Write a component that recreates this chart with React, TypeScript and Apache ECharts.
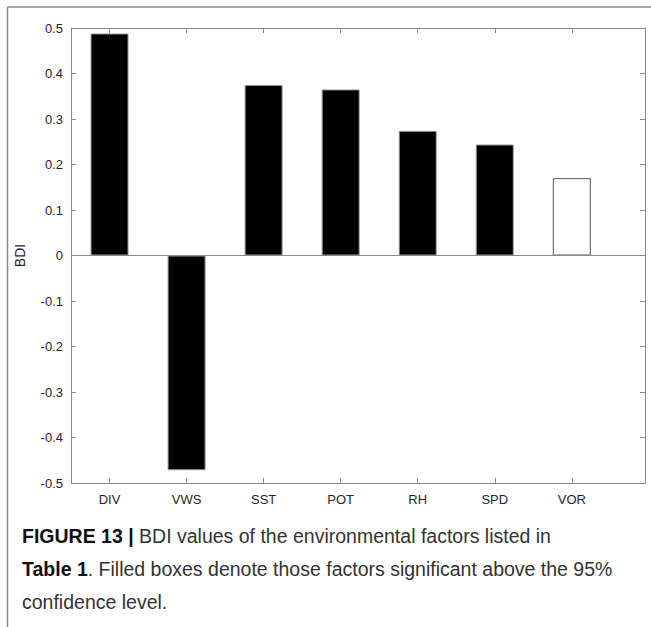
import React, { useEffect, useRef } from "react";
import * as echarts from "echarts";

const categories = ["DIV", "VWS", "SST", "POT", "RH", "SPD", "VOR"];
const bdiValues = [0.488, -0.472, 0.375, 0.365, 0.274, 0.244, 0.17];
const significant = [true, true, true, true, true, true, false];
const yTicks = [-0.5, -0.4, -0.3, -0.2, -0.1, 0, 0.1, 0.2, 0.3, 0.4, 0.5];
const positions = [1, 2, 3, 4, 5, 6, 7];
const captionLines = [
  "{b|FIGURE 13 |} BDI values of the environmental factors listed in",
  "{b|Table 1}. Filled boxes denote those factors significant above the 95%",
  "confidence level.",
];

export default function App() {
  const ref = useRef<HTMLDivElement>(null);
  useEffect(() => {
    if (!ref.current) return;
    const chart = echarts.init(ref.current, null, { renderer: "svg" });
    const axisGray = "#8a8a8a";
    const font = "Liberation Sans, Arial, Helvetica, sans-serif";
    const data = positions.map((p, i) => ({
      value: [p, bdiValues[i]],
      itemStyle: significant[i]
        ? { color: "#000000", borderColor: "#9a9a9a", borderWidth: 1 }
        : { color: "#ffffff", borderColor: "#555555", borderWidth: 1 },
    }));
    chart.setOption({
      animation: false,
      backgroundColor: "#ffffff",
      grid: { left: 71, right: 6, top: 28, bottom: 144, containLabel: false },
      xAxis: [
        {
          type: "value",
          min: 0.5,
          max: 7.95,
          position: "bottom",
          axisLine: { show: true, onZero: false, lineStyle: { color: axisGray, width: 1 } },
          axisTick: { show: true, inside: true, length: 5, customValues: positions, lineStyle: { color: axisGray } },
          axisLabel: {
            show: true,
            customValues: positions,
            formatter: (v: number) => categories[Math.round(v) - 1] ?? "",
            color: "#262626",
            fontSize: 13,
            fontFamily: font,
            margin: 10,
          },
          splitLine: { show: false },
        },
        {
          type: "value",
          min: 0.5,
          max: 7.95,
          position: "top",
          axisLine: { show: true, onZero: false, lineStyle: { color: axisGray, width: 1 } },
          axisTick: { show: true, inside: true, length: 5, customValues: positions, lineStyle: { color: axisGray } },
          axisLabel: { show: false },
          splitLine: { show: false },
        },
      ],
      yAxis: [
        {
          type: "value",
          min: -0.5,
          max: 0.5,
          interval: 0.1,
          position: "left",
          name: "BDI",
          nameLocation: "middle",
          nameGap: 44,
          nameTextStyle: { color: "#262626", fontSize: 14, fontFamily: font },
          axisLine: { show: true, onZero: false, lineStyle: { color: axisGray, width: 1 } },
          axisTick: { show: true, inside: true, length: 5, lineStyle: { color: axisGray } },
          axisLabel: {
            color: "#262626",
            fontSize: 13,
            fontFamily: font,
            margin: 8,
            formatter: (v: number) => {
              const r = Math.round(v * 10) / 10;
              return yTicks.includes(r) ? String(r) : "";
            },
          },
          splitLine: { show: false },
        },
        {
          type: "value",
          min: -0.5,
          max: 0.5,
          interval: 0.1,
          position: "right",
          axisLine: { show: true, onZero: false, lineStyle: { color: axisGray, width: 1 } },
          axisTick: { show: true, inside: true, length: 5, lineStyle: { color: axisGray } },
          axisLabel: { show: false },
          splitLine: { show: false },
        },
      ],
      series: [
        {
          type: "bar",
          xAxisIndex: 0,
          yAxisIndex: 0,
          barWidth: 38,
          data,
          markLine: {
            silent: true,
            symbol: "none",
            label: { show: false },
            lineStyle: { color: axisGray, type: "solid", width: 1 },
            data: [{ yAxis: 0 }],
          },
        },
      ],
      graphic: [
        {
          type: "line",
          shape: { x1: 7.5, y1: 7, x2: 651, y2: 7 },
          style: { stroke: "#8a8a8a", lineWidth: 1.5 },
          silent: true,
        },
        {
          type: "line",
          shape: { x1: 7.5, y1: 7, x2: 7.5, y2: 627 },
          style: { stroke: "#8a8a8a", lineWidth: 1.5 },
          silent: true,
        },
        ...captionLines.map((t, i) => ({
          type: "text",
          left: 22,
          top: 526 + i * 33,
          silent: true,
          style: {
            text: t,
            fill: "#333",
            font: `19.5px ${font}`,
            rich: { b: { fontWeight: "bold", fill: "#111", fontSize: 19.5, fontFamily: font } },
          },
        })),
      ],
    });
    return () => chart.dispose();
  }, []);
  return (
    <div
      ref={ref}
      style={{ position: "fixed", left: 0, top: 0, width: 651, height: 627 }}
    />
  );
}
